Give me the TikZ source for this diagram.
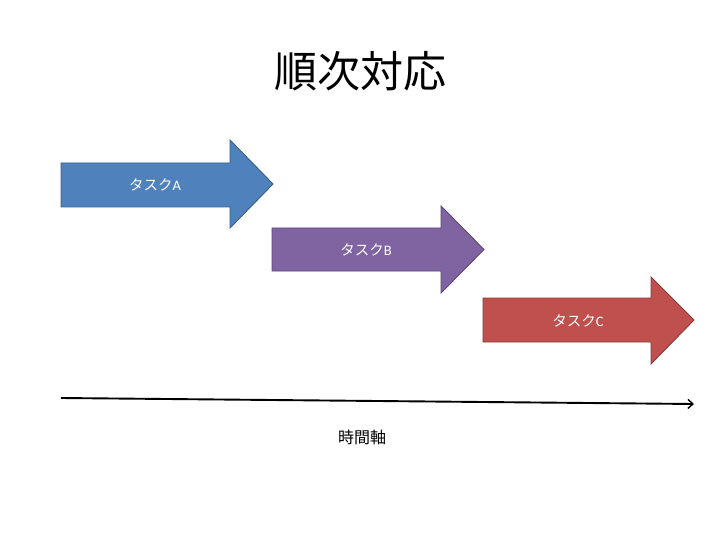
\documentclass[tikz,border=0pt]{standalone}
\usepackage{fontspec}
\setmainfont{Carlito}
\newfontfamily\cjk{Noto Sans CJK JP}
\usetikzlibrary{arrows.meta}
\definecolor{blueFill}{HTML}{4F81BD}
\definecolor{blueLine}{HTML}{385D8A}
\definecolor{purpleFill}{HTML}{8064A2}
\definecolor{purpleLine}{HTML}{5C4776}
\definecolor{redFill}{HTML}{C0504D}
\definecolor{redLine}{HTML}{8C3836}
\tikzset{
  blockarrow/.style={line width=0.9pt, line join=miter},
  tasklabel/.style={text=white, font=\fontsize{14.5}{17}\selectfont, inner sep=0pt},
  axisline/.style={line width=1.9pt, -{Straight Barb[length=5pt,width=9pt,line width=1.4pt]}},
}
\begin{document}
\begin{tikzpicture}[x=1pt,y=-1pt]
\useasboundingbox (0,0) rectangle (720,540);
\node[font=\cjk\fontsize{43}{48}\selectfont, inner sep=0pt] (title) at (360,71) {順次対応};

\draw[blockarrow, fill=blueFill, draw=blueLine]
  (61,163) -- (230,163) -- (230,140) -- (273,184) -- (230,228) -- (230,207) -- (61,207) -- cycle;
\node[tasklabel] (labelA) at (155,185) {{\cjk タスク}A};

\draw[blockarrow, fill=purpleFill, draw=purpleLine]
  (272,228) -- (441,228) -- (441,206) -- (484,249.5) -- (441,293) -- (441,271) -- (272,271) -- cycle;
\node[tasklabel] (labelB) at (366,250) {{\cjk タスク}B};

\draw[blockarrow, fill=redFill, draw=redLine]
  (483,298) -- (651,298) -- (651,277) -- (694,320) -- (651,364) -- (651,342) -- (483,342) -- cycle;
\node[tasklabel] (labelC) at (578,321) {{\cjk タスク}C};

\coordinate (axisStart) at (61,398);
\coordinate (axisEnd) at (694,404);
\draw[axisline] (axisStart) -- (axisEnd);
\node[font=\cjk\fontsize{16}{19}\selectfont, inner sep=0pt] (axisLabel) at (362,437) {時間軸};
\end{tikzpicture}
\end{document}
